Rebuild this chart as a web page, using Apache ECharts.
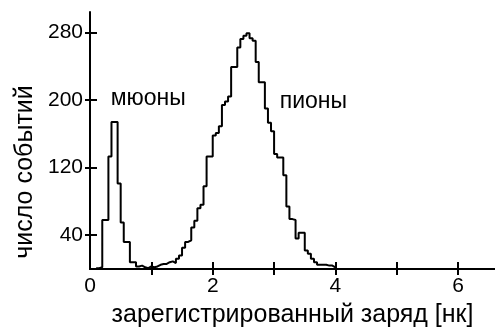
<!DOCTYPE html>
<html>
<head>
<meta charset="utf-8">
<script src="https://cdn.jsdelivr.net/npm/echarts@6/dist/echarts.min.js"></script>
<style>
html,body{margin:0;padding:0;background:#fff;}
#chart{width:495px;height:333px;}
</style>
</head>
<body>
<div id="chart"></div>
<script>
// bin left edges (charge, nC)
const chargeEdges = [
  0.10,0.15,0.20,0.25,0.30,0.35,0.40,0.45,0.50,0.55,
  0.60,0.65,0.70,0.75,0.80,0.85,0.90,0.95,1.00,1.05,
  1.10,1.15,1.20,1.25,1.30,1.35,1.40,1.45,1.50,1.55,
  1.60,1.65,1.70,1.75,1.80,1.85,1.90,1.95,2.00,2.05,
  2.10,2.15,2.20,2.25,2.30,2.35,2.40,2.45,2.50,2.55,
  2.60,2.65,2.70,2.75,2.80,2.85,2.90,2.95,3.00,3.05,
  3.10,3.15,3.20,3.25,3.30,3.35,3.40,3.45,3.50,3.55,
  3.60,3.65,3.70,3.75,3.80,3.85,3.90,3.95,4.00
];
// number of events per bin
const eventCounts = [
  1,2,58,58,133,174,174,101,55,32,
  32,8,8,3,4,2,1,3,2,3,
  5,6,6,8,9,7,12,16,25,32,
  34,49,57,72,76,98,133,133,158,161,
  169,194,198,204,239,239,262,272,276,279,
  273,270,245,221,221,190,173,163,136,132,
  132,111,74,59,58,36,43,43,22,18,
  12,8,5,5,5,4,4,2,0
];
const xLabelValues = [0,2,4,6];
const xTickValues = [1,2,3,4,5,6];
const yTickValues = [40,120,200,280];
const annotations = [
  {text:'мюоны', x:0.95, y:201},
  {text:'пионы', x:3.64, y:198}
];

const FONT = '"Liberation Sans", Arial, sans-serif';
const chart = echarts.init(document.getElementById('chart'), null, {renderer:'canvas'});
const seriesData = chargeEdges.map((c,i)=>[c, eventCounts[i]]);

const axisLine = {show:true, lineStyle:{color:'#000', width:2}};
const option = {
  animation:false,
  backgroundColor:'#fff',
  grid:{left:90, right:-3, top:12, bottom:59, containLabel:false},
  xAxis:[
    {type:'value', position:'bottom', min:0, max:6.6,
     axisLine:axisLine,
     axisTick:{show:true, inside:true, length:7, customValues:xTickValues, lineStyle:{color:'#000', width:2}},
     axisLabel:{show:true, customValues:xLabelValues, color:'#000', fontFamily:FONT, fontSize:21, margin:7},
     splitLine:{show:false},
     name:'зарегистрированный заряд [нк]', nameLocation:'middle', nameGap:34,
     nameTextStyle:{color:'#000', fontFamily:FONT, fontSize:25}
    },
    {type:'value', position:'top', min:0, max:6.6,
     axisLine:axisLine,
     axisTick:{show:true, inside:true, length:6, customValues:xTickValues, lineStyle:{color:'#000', width:2}},
     axisLabel:{show:false}, splitLine:{show:false}
    }
  ],
  yAxis:[
    {type:'value', position:'left', min:0, max:304,
     axisLine:axisLine,
     axisTick:{show:true, inside:true, length:7, customValues:yTickValues, lineStyle:{color:'#000', width:2}},
     axisLabel:{show:true, customValues:yTickValues, color:'#000', fontFamily:FONT, fontSize:21, margin:7},
     splitLine:{show:false}
    },
    {type:'value', position:'right', min:0, max:304,
     axisLine:{show:false},
     axisTick:{show:true, inside:true, length:5, customValues:yTickValues, lineStyle:{color:'#000', width:2}},
     axisLabel:{show:false}, splitLine:{show:false}
    }
  ],
  series:[{
    type:'line', step:'end', data:seriesData, xAxisIndex:0, yAxisIndex:0,
    showSymbol:false, symbol:'none',
    lineStyle:{color:'#000', width:2}, silent:true
  }]
};
chart.setOption(option);

// annotation labels anchored in data coordinates
const graphics = annotations.map(a=>{
  const p = chart.convertToPixel({xAxisIndex:0, yAxisIndex:0}, [a.x, a.y]);
  return {type:'text', x:p[0], y:p[1],
    style:{text:a.text, fill:'#000', font:'23px '+FONT, textAlign:'center', textVerticalAlign:'middle'}};
});
graphics.push({type:'text', x:25, y:172, rotation:Math.PI/2,
  style:{text:'число событий', fill:'#000', font:'25px '+FONT, textAlign:'center', textVerticalAlign:'middle'}});
chart.setOption({graphic:graphics});
</script>
</body>
</html>
